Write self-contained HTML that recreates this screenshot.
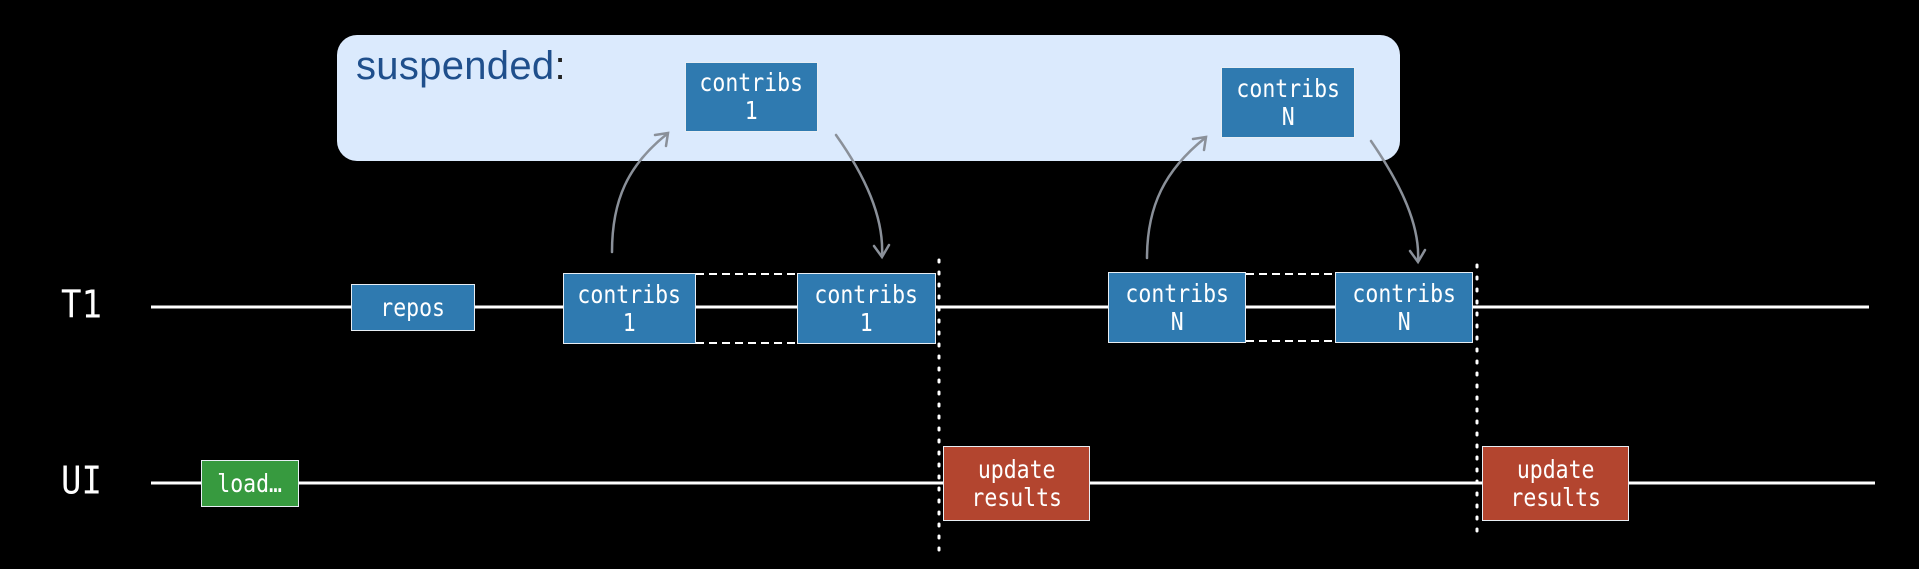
<!DOCTYPE html>
<html><head><meta charset="utf-8"><style>
html,body{margin:0;padding:0;background:#000;}
body{width:1919px;height:569px;position:relative;overflow:hidden;font-family:"DejaVu Sans Mono","Liberation Mono",monospace;}
.b{position:absolute;box-sizing:border-box;border:1.5px solid #e8eef4;color:#fff;font-size:25px;line-height:28px;display:flex;align-items:center;justify-content:center;text-align:center;}
.b span{display:inline-block;transform:scaleX(0.86);white-space:nowrap;}
.bl{background:#2f7ab0;}
.rd{background:#b3452f;}
.gr{background:#379a3f;}
.lab{position:absolute;color:#fff;font-size:34px;transform:scaleY(1.12);transform-origin:left top;}
</style></head><body>
<div style="position:absolute;left:337px;top:35px;width:1063px;height:126px;background:#dbeafd;border-radius:20px;"></div>
<div style="position:absolute;left:356px;top:44px;font-family:'Liberation Sans',sans-serif;font-size:40px;color:#1f4f8c;letter-spacing:0.3px;">suspended<span style="color:#222">:</span></div>

<svg width="1919" height="569" style="position:absolute;left:0;top:0">
<line x1="151" y1="307" x2="1869" y2="307" stroke="#fff" stroke-width="3"/>
<line x1="151" y1="483" x2="1875" y2="483" stroke="#fff" stroke-width="3"/>
<g stroke="#fff" stroke-width="2" stroke-dasharray="8,5">
<line x1="696" y1="274" x2="797" y2="274"/><line x1="696" y1="343" x2="797" y2="343"/>
<line x1="1246" y1="274" x2="1335" y2="274"/><line x1="1246" y1="341" x2="1335" y2="341"/>
</g>
<g stroke="#fff" stroke-width="3" stroke-dasharray="2,10" stroke-linecap="round">
<line x1="939" y1="260" x2="939" y2="559"/>
<line x1="1477" y1="265" x2="1477" y2="541"/>
</g>
<g stroke="#8a9099" stroke-width="2.5" fill="none" stroke-linecap="round">
<path d="M612 252 C612 200 628 165 667 134"/><path d="M655 135 L668 133 L666 146"/>
<path d="M836 135 C868 180 884 220 882 256"/><path d="M874 246 L882 257 L889 245"/>
<path d="M1147 258 C1147 206 1165 170 1205 138"/><path d="M1193 139 L1206 137 L1204 150"/>
<path d="M1371 141 C1402 186 1420 226 1418 261"/><path d="M1410 251 L1418 262 L1425 250"/>
</g>
</svg>

<div class="lab" style="left:61px;top:283px;">T1</div>
<div class="lab" style="left:61px;top:459px;">UI</div>

<div class="b bl" style="left:685px;top:62px;width:133px;height:70px;"><span>contribs<br>1</span></div>
<div class="b bl" style="left:1221px;top:67px;width:134px;height:71px;"><span>contribs<br>N</span></div>
<div class="b bl" style="left:351px;top:284px;width:124px;height:47px;"><span>repos</span></div>
<div class="b bl" style="left:563px;top:273px;width:133px;height:71px;"><span>contribs<br>1</span></div>
<div class="b bl" style="left:797px;top:273px;width:139px;height:71px;"><span>contribs<br>1</span></div>
<div class="b bl" style="left:1108px;top:272px;width:138px;height:71px;"><span>contribs<br>N</span></div>
<div class="b bl" style="left:1335px;top:272px;width:138px;height:71px;"><span>contribs<br>N</span></div>
<div class="b gr" style="left:201px;top:460px;width:98px;height:47px;"><span>load…</span></div>
<div class="b rd" style="left:943px;top:446px;width:147px;height:75px;"><span>update<br>results</span></div>
<div class="b rd" style="left:1482px;top:446px;width:147px;height:75px;"><span>update<br>results</span></div>
</body></html>
